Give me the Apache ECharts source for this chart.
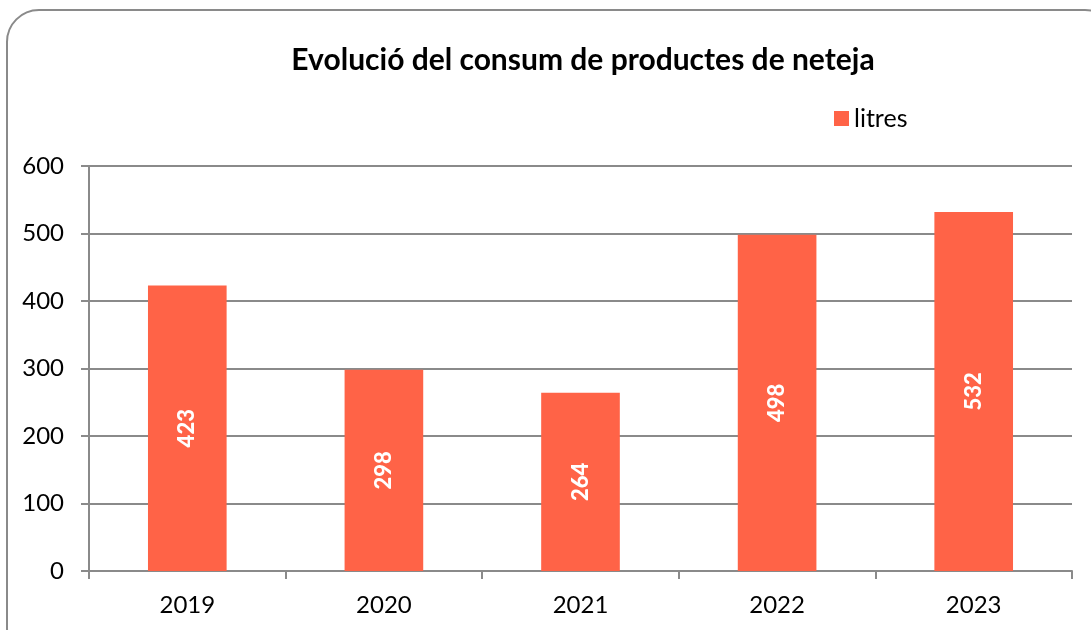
<html><head><meta charset="utf-8"><script src="https://cdn.jsdelivr.net/npm/echarts@6/dist/echarts.min.js"></script>
<style type="text/css">
        html, body { height: 100%; margin: 0px; padding: 0px; background: #fff; }
    </style></head><body><div id="main" style="width: 1091px;height:630px;"></div><script type="text/javascript">
        var years = ['2019', '2020', '2021', '2022', '2023'];
        var litres = [423, 298, 264, 498, 532];
        var yTicks = [0, 100, 200, 300, 400, 500, 600];

        var myChart = echarts.init(document.getElementById('main'));
        var font = 'Lato, "Liberation Sans", sans-serif';
        var option = {
            animation: false,
            textStyle: { fontFamily: font },
            graphic: [{
                type: 'rect',
                shape: { x: 7, y: 10, width: 1110, height: 650, r: 32 },
                style: { fill: 'none', stroke: '#8a8a8a', lineWidth: 2 }
            }],
            title: {
                text: 'Evolució del consum de productes de neteja',
                left: 578, top: 40, textAlign: 'center',
                textStyle: { fontFamily: font, fontSize: 30, fontWeight: 'bold', color: '#000' }
            },
            legend: {
                data: ['litres'], left: 829, top: 101,
                icon: 'rect', itemWidth: 15, itemHeight: 15, itemGap: 8,
                textStyle: { fontFamily: font, fontSize: 25, color: '#000' }
            },
            grid: { left: 89, right: 19, top: 166, bottom: 59 },
            xAxis: {
                type: 'category', data: years,
                axisLine: { lineStyle: { color: '#8a8a8a', width: 2 } },
                axisTick: { show: true, length: 8, alignWithLabel: false, lineStyle: { color: '#8a8a8a', width: 2 } },
                axisLabel: { fontFamily: font, fontSize: 24, color: '#000', margin: 22 }
            },
            yAxis: {
                type: 'value', min: yTicks[0], max: yTicks[yTicks.length - 1], interval: 100,
                axisLine: { show: true, lineStyle: { color: '#8a8a8a', width: 2 } },
                axisTick: { show: true, length: 8, lineStyle: { color: '#8a8a8a', width: 2 } },
                splitLine: { lineStyle: { color: '#8a8a8a', width: 2 } },
                axisLabel: { fontFamily: font, fontSize: 24, color: '#000', margin: 25 }
            },
            series: [{
                name: 'litres', type: 'bar', data: litres, barWidth: '40%',
                itemStyle: { color: '#ff6347' },
                label: {
                    show: true, position: 'inside', rotate: 90,
                    fontFamily: font, fontSize: 22, fontWeight: 900, color: '#fff'
                }
            }]
        };
        myChart.setOption(option);
    </script></body></html>
